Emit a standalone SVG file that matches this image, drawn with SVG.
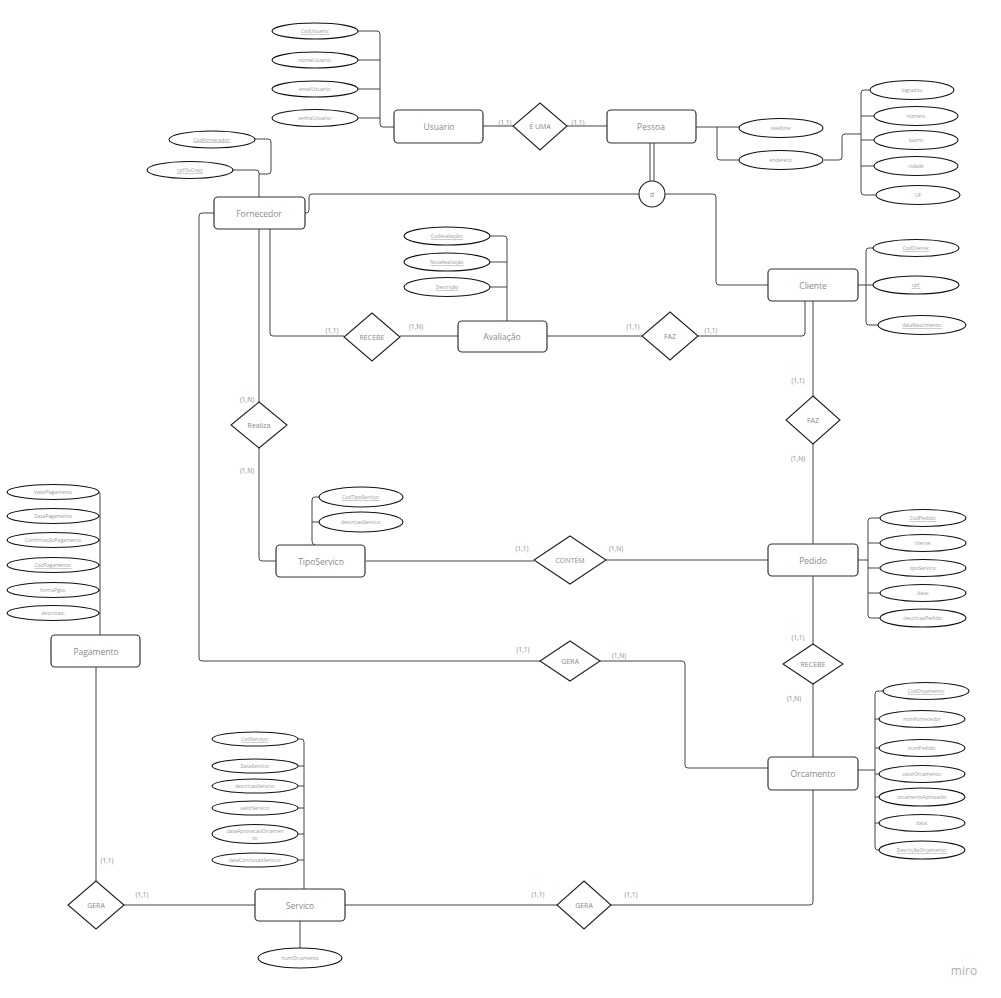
<svg xmlns="http://www.w3.org/2000/svg" width="1001" height="998" viewBox="0 0 1001 998">
<style>
.ent{fill:#fff;stroke:#333;stroke-width:1.2}
.rel{fill:#fff;stroke:#222;stroke-width:1.1}
.att{fill:#fff;stroke:#111;stroke-width:1.1}
.et{font-family:"Open Sans",sans-serif;font-size:8.5px;fill:#8a8a8a;text-anchor:middle;dominant-baseline:central}
.rt{font-family:"Open Sans",sans-serif;font-size:7px;fill:#888;text-anchor:middle;dominant-baseline:central}
.at{font-family:"Open Sans",sans-serif;font-size:5px;fill:#999;text-anchor:middle;dominant-baseline:central}
.u{text-decoration:underline}
.cd{font-family:"Open Sans",sans-serif;font-size:6.5px;fill:#888;text-anchor:middle;dominant-baseline:central}
.ln{fill:none;stroke:#444;stroke-width:1}
</style>
<rect width="1001" height="998" fill="#fff"/>
<g id="connectors" class="ln">
<path d="M358,31 H377 Q380,31 380,34 V124 Q380,127 383,127 H394 M358,60 H380 M358,89 H380 M358,118 H380"/>
<path d="M483,126 H513 M567,126 H607"/>
<path d="M696,127 H739 M717,127 V157 Q717,160 720,160 H739"/>
<path d="M824,160 H839 Q842,160 842,157 V137 Q842,134 845,134 H861 M870,90 H864 Q861,90 861,93 V192 Q861,195 864,195 H876 M861,116 H874 M861,140 H874 M861,166 H874"/>
<path d="M650,143 V181 M654,143 V181"/>
<path d="M639,194 H312 Q309,194 309,197 V210 Q309,213 306,213 H305"/>
<path d="M665,194 H713 Q716,194 716,197 V282 Q716,285 719,285 H768"/>
<path d="M255,139 H268 Q271,139 271,142 V171 Q271,174 268,174 H259 M233,170 H256 Q259,170 259,173 V197"/>
<path d="M214,213 H202 Q199,213 199,216 V658 Q199,661 202,661 H540"/>
<path d="M270,229 V333 Q270,336 273,336 H344"/>
<path d="M259,229 V402"/>
<path d="M259,448 V558 Q259,561 262,561 H276"/>
<path d="M319,497 H315 Q312,497 312,500 V541 Q312,544 315,545 M312,522 H319"/>
<path d="M366,561 H534 M606,560 H768"/>
<path d="M400,336 H458"/>
<path d="M490,236 H504 Q507,236 507,239 V321 M490,262 H507 M490,287 H507"/>
<path d="M547,336 H642 M698,336 H802 Q805,336 805,333 V301"/>
<path d="M813,301 V396 M813,444 V544"/>
<path d="M858,285 H873 M873,248 H869 Q866,248 866,251 V322 Q866,325 869,325 H878"/>
<path d="M858,560 H868 M880,518 H871 Q868,518 868,521 V615 Q868,618 871,618 H880 M868,543 H880 M868,568 H880 M868,593 H880"/>
<path d="M813,576 V644 M813,684 V757"/>
<path d="M600,661 H682 Q685,661 685,664 V765 Q685,768 688,768 H768"/>
<path d="M858,770 H875 M883,691 H878 Q875,691 875,694 V847 Q875,850 878,850 H880 M875,719 H880 M875,748 H880 M875,774 H880 M875,797 H880 M875,823 H880"/>
<path d="M813,790 V902 Q813,905 810,905 H611"/>
<path d="M557,905 H345"/>
<path d="M298,739 H301 Q304,739 304,742 V889 M298,766 H304 M298,786 H304 M298,808 H304 M298,834 H304 M298,860 H304"/>
<path d="M300,921 V948"/>
<path d="M255,905 H124"/>
<path d="M96,666 V881"/>
<path d="M99,492 H97 M99,492 Q100,492 100,495 V635 M99,516 H100 M99,540 H100 M99,565 H100 M99,590 H100 M99,613 H100"/>
</g>
<g id="cardinalities">
<text class="cd" x="505" y="122">(1,1)</text>
<text class="cd" x="578" y="122">(1,1)</text>
<text class="cd" x="332" y="330">(1,1)</text>
<text class="cd" x="416" y="326">(1,N)</text>
<text class="cd" x="633" y="326">(1,1)</text>
<text class="cd" x="711" y="330">(1,1)</text>
<text class="cd" x="247" y="399">(1,N)</text>
<text class="cd" x="247" y="470">(1,N)</text>
<text class="cd" x="798" y="380">(1,1)</text>
<text class="cd" x="798" y="458">(1,N)</text>
<text class="cd" x="522" y="548">(1,1)</text>
<text class="cd" x="616" y="548">(1,N)</text>
<text class="cd" x="523" y="649">(1,1)</text>
<text class="cd" x="619" y="655">(1,N)</text>
<text class="cd" x="798" y="637">(1,1)</text>
<text class="cd" x="794" y="698">(1,N)</text>
<text class="cd" x="107" y="860">(1,1)</text>
<text class="cd" x="142" y="894">(1,1)</text>
<text class="cd" x="538" y="894">(1,1)</text>
<text class="cd" x="631" y="894">(1,1)</text>
</g>
<g id="Usuario"><rect class="ent" x="394" y="110" width="89" height="33" rx="4"/><text class="et" x="439" y="126">Usuario</text></g>
<g id="Pessoa"><rect class="ent" x="607" y="110" width="89" height="33" rx="4"/><text class="et" x="651" y="126">Pessoa</text></g>
<g id="Fornecedor"><rect class="ent" x="214" y="197" width="91" height="32" rx="4"/><text class="et" x="259" y="213">Fornecedor</text></g>
<g id="Cliente"><rect class="ent" x="768" y="269" width="90" height="32" rx="4"/><text class="et" x="813" y="285">Cliente</text></g>
<g id="Avaliacao"><rect class="ent" x="458" y="321" width="89" height="31" rx="4"/><text class="et" x="502" y="336">Avaliação</text></g>
<g id="TipoServico"><rect class="ent" x="276" y="545" width="89" height="32" rx="4"/><text class="et" x="321" y="561">TipoServico</text></g>
<g id="Pedido"><rect class="ent" x="768" y="544" width="90" height="32" rx="4"/><text class="et" x="813" y="560">Pedido</text></g>
<g id="Pagamento"><rect class="ent" x="51" y="635" width="89" height="32" rx="4"/><text class="et" x="96" y="651">Pagamento</text></g>
<g id="Orcamento"><rect class="ent" x="768" y="757" width="90" height="33" rx="4"/><text class="et" x="813" y="773">Orcamento</text></g>
<g id="Servico"><rect class="ent" x="255" y="889" width="90" height="32" rx="4"/><text class="et" x="300" y="905">Servico</text></g>
<g id="rel-EUMA"><polygon class="rel" points="540,103 567,126 540,150 513,126"/><text class="rt" x="540" y="126">É UMA</text></g>
<g id="rel-RECEBE1"><polygon class="rel" points="372,313 400,337 372,361 344,337"/><text class="rt" x="372" y="337">RECEBE</text></g>
<g id="rel-FAZ1"><polygon class="rel" points="670,312 698,336 670,360 642,336"/><text class="rt" x="670" y="336">FAZ</text></g>
<g id="rel-Realiza"><polygon class="rel" points="259,402 287,425 259,448 231,425"/><text class="rt" x="259" y="425">Realiza</text></g>
<g id="rel-FAZ2"><polygon class="rel" points="813,396 840,420 813,444 786,420"/><text class="rt" x="813" y="420">FAZ</text></g>
<g id="rel-CONTEM"><polygon class="rel" points="570,536 606,560 570,584 534,560"/><text class="rt" x="570" y="560">CONTÉM</text></g>
<g id="rel-GERA1"><polygon class="rel" points="570,641 600,661 570,681 540,661"/><text class="rt" x="570" y="661">GERA</text></g>
<g id="rel-RECEBE2"><polygon class="rel" points="813,644 843,664 813,684 783,664"/><text class="rt" x="813" y="664">RECEBE</text></g>
<g id="rel-GERA2"><polygon class="rel" points="96,881 124,905 96,929 68,905"/><text class="rt" x="96" y="905">GERA</text></g>
<g id="rel-GERA3"><polygon class="rel" points="584,881 611,905 584,929 557,905"/><text class="rt" x="584" y="905">GERA</text></g>
<g id="d-circle"><circle class="rel" cx="652" cy="194" r="13"/><text class="rt" x="652" y="194">d</text></g>
<g id="attrs-Usuario">
<ellipse class="att" cx="315" cy="31" rx="43" ry="8"/><text class="at u" x="315" y="31">CodUsuario:</text>
<ellipse class="att" cx="315" cy="60" rx="43" ry="8"/><text class="at" x="315" y="60">nomeUsuario:</text>
<ellipse class="att" cx="315" cy="89" rx="43" ry="8"/><text class="at" x="315" y="89">emailUsuario:</text>
<ellipse class="att" cx="315" cy="118" rx="43" ry="8.5"/><text class="at" x="315" y="118">senhaUsuario:</text>
</g>
<g id="attrs-Pessoa">
<ellipse class="att" cx="781" cy="128" rx="42" ry="9.5"/><text class="at" x="781" y="128">telefone:</text>
<ellipse class="att" cx="781" cy="160" rx="42" ry="9.5"/><text class="at" x="781" y="160">endereco:</text>
<ellipse class="att" cx="912" cy="90" rx="42" ry="9.5"/><text class="at" x="912" y="90">logradou</text>
<ellipse class="att" cx="916" cy="116" rx="42" ry="9.5"/><text class="at" x="916" y="116">número</text>
<ellipse class="att" cx="916" cy="140" rx="42" ry="9.5"/><text class="at" x="916" y="140">bairro</text>
<ellipse class="att" cx="916" cy="166" rx="42" ry="9.5"/><text class="at" x="916" y="166">cidade</text>
<ellipse class="att" cx="918" cy="195" rx="42" ry="9.5"/><text class="at" x="918" y="195">UF</text>
</g>
<g id="attrs-Fornecedor">
<ellipse class="att" cx="212" cy="139.5" rx="43" ry="8.5"/><text class="at u" x="212" y="139.5">CodFornecedor:</text>
<ellipse class="att" cx="190" cy="170" rx="43" ry="8.5"/><text class="at u" x="190" y="170">cpfOuCnpj:</text>
</g>
<g id="attrs-Avaliacao">
<ellipse class="att" cx="447" cy="236" rx="43" ry="9"/><text class="at u" x="447" y="236">CodAvaliação:</text>
<ellipse class="att" cx="447" cy="262" rx="43" ry="9"/><text class="at u" x="447" y="262">NotaAvaliação</text>
<ellipse class="att" cx="447" cy="287" rx="43" ry="9.5"/><text class="at u" x="447" y="287">Descrição</text>
</g>
<g id="attrs-Cliente">
<ellipse class="att" cx="916" cy="248" rx="43" ry="8.5"/><text class="at u" x="916" y="248">CodCliente:</text>
<ellipse class="att" cx="916" cy="285" rx="43" ry="9"/><text class="at u" x="916" y="285">cpf:</text>
<ellipse class="att" cx="922" cy="325" rx="44" ry="9.5"/><text class="at u" x="922" y="325">dataNascimento:</text>
</g>
<g id="attrs-TipoServico">
<ellipse class="att" cx="361" cy="497" rx="42" ry="10"/><text class="at u" x="361" y="497">CodTipoServiço:</text>
<ellipse class="att" cx="361" cy="522" rx="42" ry="10"/><text class="at" x="361" y="522">descricaoServico:</text>
</g>
<g id="attrs-Pedido">
<ellipse class="att" cx="923" cy="518" rx="43" ry="8.5"/><text class="at u" x="923" y="518">CodPedido:</text>
<ellipse class="att" cx="923" cy="543" rx="43" ry="8.5"/><text class="at" x="923" y="543">cliente:</text>
<ellipse class="att" cx="923" cy="568" rx="43" ry="8.5"/><text class="at" x="923" y="568">tipoServico:</text>
<ellipse class="att" cx="923" cy="593" rx="43" ry="8.5"/><text class="at" x="923" y="593">data:</text>
<ellipse class="att" cx="923" cy="618" rx="43" ry="9"/><text class="at" x="923" y="618">descricaoPedido:</text>
</g>
<g id="attrs-Orcamento">
<ellipse class="att" cx="926" cy="691" rx="43" ry="8.5"/><text class="at u" x="926" y="691">CodOrçamento:</text>
<ellipse class="att" cx="922" cy="719" rx="43" ry="8.5"/><text class="at" x="922" y="719">nomFornecedor</text>
<ellipse class="att" cx="922" cy="748" rx="43" ry="8.5"/><text class="at" x="922" y="748">numPedido:</text>
<ellipse class="att" cx="922" cy="774" rx="43" ry="8.5"/><text class="at" x="922" y="774">valorOrcamento:</text>
<ellipse class="att" cx="922" cy="797" rx="43" ry="9"/><text class="at" x="922" y="797">orcamentoAprovado:</text>
<ellipse class="att" cx="922" cy="823" rx="43" ry="8.5"/><text class="at" x="922" y="823">data:</text>
<ellipse class="att" cx="922" cy="850" rx="43" ry="9"/><text class="at u" x="922" y="850">DescriçãoOrçamento:</text>
</g>
<g id="attrs-Servico">
<ellipse class="att" cx="255" cy="739" rx="43" ry="7"/><text class="at u" x="255" y="739">CodServiço:</text>
<ellipse class="att" cx="255" cy="766" rx="43" ry="7"/><text class="at" x="255" y="766">DataServico:</text>
<ellipse class="att" cx="255" cy="786" rx="43" ry="7"/><text class="at" x="255" y="786">descricaoServico:</text>
<ellipse class="att" cx="255" cy="808" rx="43" ry="7"/><text class="at" x="255" y="808">valorServico:</text>
<ellipse class="att" cx="255" cy="834" rx="43" ry="9.5"/><text class="at" x="255" y="830.5">dataAprovacaoOrcamen</text><text class="at" x="255" y="837.5">to:</text>
<ellipse class="att" cx="255" cy="860" rx="43" ry="7"/><text class="at" x="255" y="860">dataConclusaoServico:</text>
<ellipse class="att" cx="300" cy="958" rx="42" ry="10"/><text class="at" x="300" y="958">numOrcamento</text>
</g>
<g id="attrs-Pagamento">
<ellipse class="att" cx="53" cy="492" rx="46" ry="7.5"/><text class="at" x="53" y="492">ValorPagamento</text>
<ellipse class="att" cx="53" cy="516" rx="46" ry="7.5"/><text class="at" x="53" y="516">DataPagamento</text>
<ellipse class="att" cx="53" cy="540" rx="46" ry="7.5"/><text class="at" x="53" y="540">ConfirmaçãoPagamento</text>
<ellipse class="att" cx="53" cy="565" rx="46" ry="7.5"/><text class="at u" x="53" y="565">CodPagamento:</text>
<ellipse class="att" cx="53" cy="590" rx="46" ry="7.5"/><text class="at" x="53" y="590">formaPgto:</text>
<ellipse class="att" cx="53" cy="613" rx="46" ry="7.5"/><text class="at" x="53" y="613">descricao:</text>
</g>
<text x="964" y="970" font-family="Open Sans, sans-serif" font-size="12" fill="#b0b0b0" text-anchor="middle" dominant-baseline="central">miro</text>
</svg>
